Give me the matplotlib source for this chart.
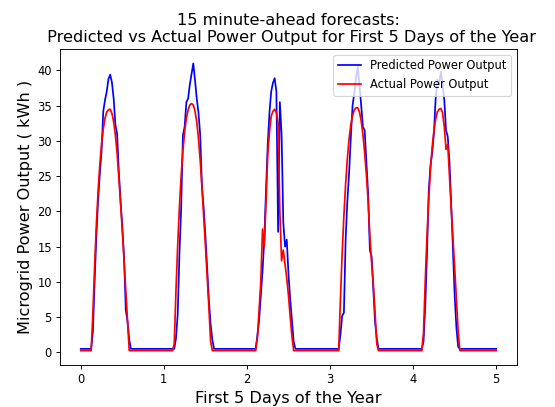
import numpy as np
import matplotlib
matplotlib.use("Agg")
import matplotlib.pyplot as plt

# x axis: first 5 days, 241 samples
n_points = 241
x_start, x_end = 0, 5

night_pred = 0.5
night_act = 0.25

pred_day1 = [3.0, 10.0, 16.5, 21.5, 25.3, 28.5, 34.2, 35.8, 37.0, 38.8, 39.4, 38.3, 36.0, 32.3,
             31.0, 25.5, 21.5, 17.8, 13.5, 6.0, 4.4, 1.8]
pred_day2 = [2.0, 5.4, 14.0, 20.5, 30.8, 32.0, 35.5, 36.0, 38.0, 39.5, 41.0, 38.6, 36.0, 34.0,
             30.8, 23.5, 20.5, 16.5, 12.0, 7.5, 4.0, 1.8]
pred_day3 = [2.3, 4.5, 8.0, 11.5, 16.0, 23.0, 29.5, 34.0, 37.0, 38.2, 38.9, 37.0, 17.1, 35.5,
             31.0, 18.4, 15.0, 16.0, 11.0, 7.5, 4.5, 1.5]
pred_day4 = [2.5, 5.2, 5.6, 16.0, 21.5, 25.4, 30.5, 35.0, 36.8, 39.0, 40.5, 38.0, 35.0, 32.0,
             31.5, 27.0, 22.5, 14.5, 13.6, 9.0, 4.3, 2.0]
pred_day5 = [1.5, 6.5, 14.0, 22.8, 26.5, 28.3, 31.0, 36.0, 38.7, 38.0, 39.8, 38.0, 35.8, 31.5,
             30.6, 27.0, 21.0, 14.5, 8.0, 3.5, 0.8]

act_day1 = [5.5, 12.3, 18.1, 22.8, 26.6, 29.6, 31.7, 33.2, 34.1, 34.4, 34.5, 33.9, 32.7, 30.8,
            28.2, 24.8, 21.1, 17.3, 13.1, 9.0, 4.6]
act_day2 = [1.2, 8.8, 15.3, 20.7, 25.1, 28.6, 31.3, 33.2, 34.4, 35.1, 35.3, 35.1, 34.2, 32.7,
            30.3, 27.2, 23.4, 19.3, 15.2, 10.8, 6.4, 1.6]
act_day3 = [2.0, 6.0, 10.0, 17.5, 15.0, 21.2, 28.0, 31.3, 33.5, 34.2, 34.5, 34.0, 32.5, 20.0,
            13.0, 14.5, 12.5, 10.5, 8.0, 5.0, 2.2]
act_day4 = [7.6, 14.0, 19.4, 23.9, 27.5, 30.3, 32.3, 33.6, 34.4, 34.7, 34.7, 34.1, 32.8, 30.9,
            28.3, 25.2, 21.5, 16.5, 12.8, 9.7, 5.6, 1.2]
act_day5 = [2.8, 10.2, 16.5, 21.7, 25.9, 29.1, 31.5, 33.1, 34.1, 34.5, 34.6, 34.0, 32.0, 28.8,
            29.5, 25.0, 20.4, 16.3, 12.0, 7.6, 3.0]

predicted = ([night_pred] * 7 + pred_day1 + [night_pred] * 26 + pred_day2 + [night_pred] * 25
             + pred_day3 + [night_pred] * 26 + pred_day4 + [night_pred] * 26 + pred_day5
             + [night_pred] * 22)
actual = ([night_act] * 7 + act_day1 + [night_act] * 26 + act_day2 + [night_act] * 26
          + act_day3 + [night_act] * 27 + act_day4 + [night_act] * 26 + act_day5
          + [night_act] * 22)

x = np.linspace(x_start, x_end, n_points)

DPI = 83
fig = plt.figure(figsize=(555 / DPI, 407 / DPI), dpi=DPI)
ax = fig.add_axes([60 / 555, 42 / 407, 457 / 555, 316 / 407])
ax.plot(x, predicted, color='blue', label='Predicted Power Output')
ax.plot(x, actual, color='red', label='Actual Power Output')
ax.set_title('15 minute-ahead forecasts:\n Predicted vs Actual Power Output for First 5 Days of the Year',
             fontsize=14)
ax.set_xlabel('First 5 Days of the Year', fontsize=14)
ax.set_ylabel('Microgrid Power Output ( kWh )', fontsize=14)
ax.legend(loc='upper right')
fig.savefig('out.png', dpi=DPI)
